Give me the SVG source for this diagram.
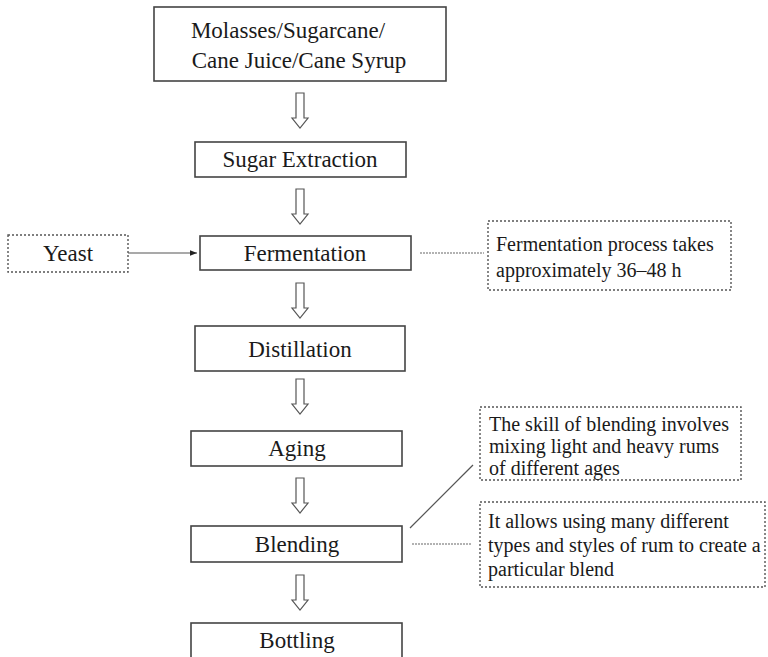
<svg xmlns="http://www.w3.org/2000/svg" width="768" height="657" viewBox="0 0 768 657">
  <style>
    .box { fill: #fff; stroke: #444; stroke-width: 1.6; }
    .note { fill: #fff; stroke: #555; stroke-width: 1.4; stroke-dasharray: 2 2; }
    .t { font-family: "Liberation Serif", "Times New Roman", serif; font-size: 23px; fill: #1a1a1a; text-anchor: middle; }
    .n { font-family: "Liberation Serif", "Times New Roman", serif; font-size: 20px; fill: #1a1a1a; }
    .flow { fill: #fff; stroke: #555; stroke-width: 1.2; stroke-linejoin: miter; }
    .link { stroke: #555; stroke-width: 1.2; fill: none; }
    .dot { stroke: #666; stroke-width: 1.2; stroke-dasharray: 2 1; fill: none; }
  </style>
  <defs>
    <marker id="head" viewBox="0 0 10 10" refX="10" refY="5" markerWidth="7" markerHeight="7" markerUnits="userSpaceOnUse" orient="auto">
      <path d="M0,1 L10,5 L0,9 Z" fill="#222"/>
    </marker>
    <!-- hollow down arrow, 35 px tall, origin at top centre -->
    <path id="down" d="M-4,0 H4 V25 H8 L0,35 L-8,25 H-4 Z"/>
  </defs>

  <g id="connectors">
    <use href="#down" class="flow" x="300" y="93"/>
    <use href="#down" class="flow" x="300" y="189"/>
    <use href="#down" class="flow" x="300" y="283"/>
    <use href="#down" class="flow" x="300" y="379"/>
    <use href="#down" class="flow" x="300" y="478"/>
    <use href="#down" class="flow" x="300" y="575"/>
    <line class="link" x1="128" y1="253" x2="197" y2="253" marker-end="url(#head)"/>
    <line class="dot" x1="420" y1="253" x2="484" y2="253"/>
    <line class="link" x1="410" y1="528" x2="473" y2="465"/>
    <line class="dot" x1="412" y1="544" x2="472" y2="544"/>
  </g>

  <g id="source">
    <rect class="box" x="154" y="7" width="292" height="74"/>
    <text class="t" x="288" y="38">Molasses/Sugarcane/</text>
    <text class="t" x="299" y="68">Cane Juice/Cane  Syrup</text>
  </g>

  <g id="extraction">
    <rect class="box" x="195" y="142" width="211" height="35"/>
    <text class="t" x="300" y="167">Sugar  Extraction</text>
  </g>

  <g id="yeast">
    <rect class="note" x="8" y="235" width="120" height="37"/>
    <text class="t" x="68" y="261">Yeast</text>
  </g>

  <g id="fermentation">
    <rect class="box" x="200" y="236" width="211" height="34"/>
    <text class="t" x="305" y="261">Fermentation</text>
  </g>

  <g id="fermentation-note">
    <rect class="note" x="488" y="221" width="243" height="69"/>
    <text class="n" x="496" y="251">Fermentation process takes</text>
    <text class="n" x="496" y="277">approximately 36–48 h</text>
  </g>

  <g id="distillation">
    <rect class="box" x="195" y="326" width="210" height="45"/>
    <text class="t" x="300" y="357">Distillation</text>
  </g>

  <g id="aging">
    <rect class="box" x="191" y="431" width="211" height="35"/>
    <text class="t" x="297" y="456">Aging</text>
  </g>

  <g id="blending">
    <rect class="box" x="191" y="526" width="211" height="36"/>
    <text class="t" x="297" y="552">Blending</text>
  </g>

  <g id="blending-note-skill">
    <rect class="note" x="480" y="407" width="261" height="73"/>
    <text class="n" x="489" y="431">The skill of blending involves</text>
    <text class="n" x="489" y="453">mixing light and heavy rums</text>
    <text class="n" x="489" y="475">of different ages</text>
  </g>

  <g id="blending-note-types">
    <rect class="note" x="480" y="502" width="285" height="85"/>
    <text class="n" x="488" y="528">It allows using many different</text>
    <text class="n" x="488" y="552">types and styles of rum to create a</text>
    <text class="n" x="488" y="576">particular blend</text>
  </g>

  <g id="bottling">
    <rect class="box" x="191" y="623" width="211" height="40"/>
    <text class="t" x="297" y="648">Bottling</text>
  </g>
</svg>
